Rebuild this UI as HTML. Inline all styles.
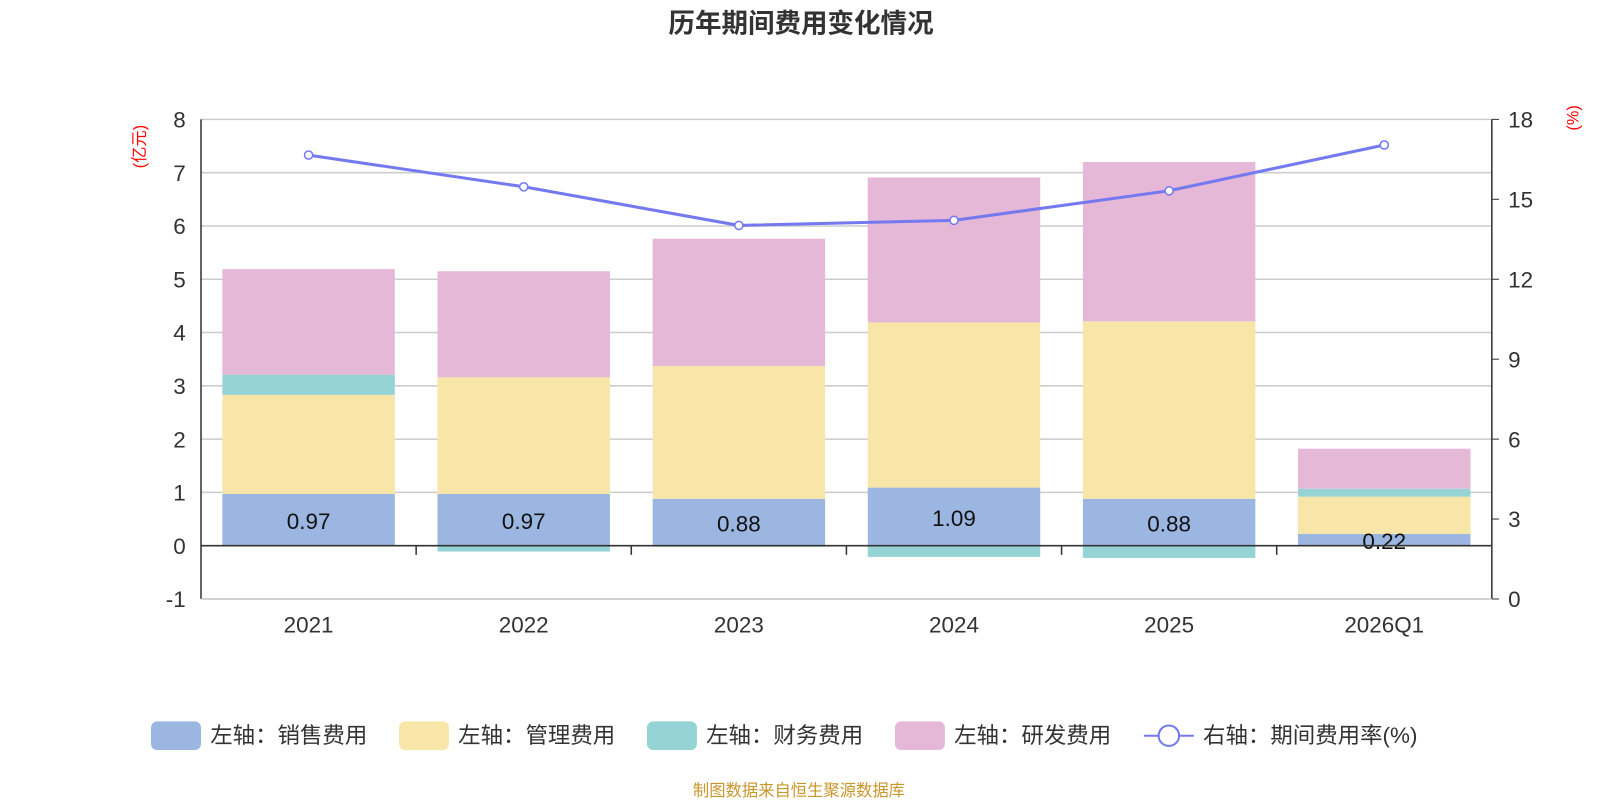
<!DOCTYPE html>
<html><head><meta charset="utf-8"><style>
body{margin:0;background:#fff;width:1600px;height:800px;overflow:hidden;font-family:"Liberation Sans","Noto Sans CJK SC",sans-serif;}
</style></head><body>
<svg width="1600" height="800" font-family="Liberation Sans, Noto Sans CJK SC, sans-serif"><g id="c" transform="scale(1.0204)"></g></svg>
<script>
const categories=["2021","2022","2023","2024","2025","2026Q1"];
const sales=[0.97,0.97,0.88,1.09,0.88,0.22];
const mgmt=[1.86,2.19,2.49,3.10,3.33,0.70];
const fin=[0.38,-0.11,-0.02,-0.21,-0.23,0.15];
const rd=[1.98,1.99,2.39,2.72,2.99,0.75];
const rate=[16.66,15.47,14.02,14.21,15.32,17.04];
const leftTicks=[-1,0,1,2,3,4,5,6,7,8];
const rightTicks=[0,3,6,9,12,15,18];
const svg=document.getElementById('c');const NS='http://www.w3.org/2000/svg';
function mk(t,a,txt){const e=document.createElementNS(NS,t);for(const k in a)e.setAttribute(k,a[k]);if(txt!==undefined)e.textContent=txt;svg.appendChild(e);return e;}
const x0=197,x1=1462,yTop=117,yBot=587;
const yL=v=>yTop+(8-v)*(yBot-yTop)/9;
const yR=v=>yBot-v*(yBot-yTop)/18;
const bw=(x1-x0)/categories.length;
const xc=i=>x0+bw*(i+0.5);
let t=mk('text',{x:785,y:32,'text-anchor':'middle','font-size':26,'font-weight':'bold',fill:'#333'},'历年期间费用变化情况');

leftTicks.forEach(v=>{
 if(v!==0){let g=mk('line',{x1:x0,x2:x1,y1:yL(v),y2:yL(v),stroke:'#ccc','stroke-width':1.5});}
 let l=mk('text',{x:182,y:yL(v)+8,'text-anchor':'end','font-size':22,fill:'#333'},String(v));
});
rightTicks.forEach(v=>{
 let l=mk('text',{x:1478,y:yR(v)+8,'font-size':22,fill:'#333'},String(v));
 let tk=mk('line',{x1:x1,x2:x1+7,y1:yR(v),y2:yR(v),stroke:'#333'});
});
const colors=['#9bb6e0','#f8e6a8','#95d3d4','#e6b8d8'];
const series=[sales,mgmt,fin,rd];const names=['sales','mgmt','finance','rd'];
categories.forEach((c,i)=>{
 let pos=0,neg=0;
 series.forEach((s,k)=>{const v=s[i];let a,b;
  if(v>=0){a=pos;b=pos+v;pos=b;}else{a=neg;b=neg+v;neg=b;}
  let r=mk('rect',{x:xc(i)-84.5,width:169,y:Math.min(yL(a),yL(b)),height:Math.abs(yL(a)-yL(b)),fill:colors[k]});
  
 });
 let l=mk('text',{x:xc(i),y:(yL(0)+yL(sales[i]))/2+9,'text-anchor':'middle','font-size':22,fill:'#111'},sales[i].toFixed(2));
 
 let xl=mk('text',{x:xc(i),y:620,'text-anchor':'middle','font-size':22,fill:'#333'},c);
 
 if(i>0){let tk=mk('line',{x1:x0+bw*i,x2:x0+bw*i,y1:yL(0),y2:yL(0)+9,stroke:'#333','stroke-width':1.5});}
});
let ax=mk('line',{x1:x0,x2:x1,y1:yL(0),y2:yL(0),stroke:'#333','stroke-width':1.5});
let la=mk('line',{x1:x0,x2:x0,y1:yTop,y2:yBot,stroke:'#333','stroke-width':1.5});
let ra=mk('line',{x1:x1,x2:x1,y1:yTop,y2:yBot,stroke:'#333','stroke-width':1.5});
let bl=mk('line',{x1:x0,x2:x1,y1:yBot,y2:yBot,stroke:'#ccc','stroke-width':1.5});
let pts=rate.map((v,i)=>xc(i)+','+yR(v)).join(' ');
let pl=mk('polyline',{points:pts,fill:'none',stroke:'#7479f0','stroke-width':3});
rate.forEach((v,i)=>{let p=mk('circle',{cx:xc(i),cy:yR(v),r:4,fill:'#fff',stroke:'#7479f0','stroke-width':1.5});});
let u1=mk('text',{x:0,y:0,'font-size':16,fill:'red',transform:'translate(142,165) rotate(-90)'},'(亿元)');
let u2=mk('text',{x:0,y:0,'font-size':16,fill:'red',transform:'translate(1547,128) rotate(-90)'},'(%)');
const legs=['左轴：销售费用','左轴：管理费用','左轴：财务费用','左轴：研发费用'];const lx=[148,391,634,877];
legs.forEach((s,k)=>{let r=mk('rect',{x:lx[k],y:707,width:49,height:28,rx:6,fill:colors[k]});
 let tx=mk('text',{x:lx[k]+58,y:728,'font-size':22,fill:'#333'},s);});
let ll=mk('line',{x1:1121,x2:1170,y1:721,y2:721,stroke:'#7479f0','stroke-width':2});
let lc=mk('circle',{cx:1145.5,cy:721,r:10,fill:'#fff',stroke:'#7479f0','stroke-width':2});
let lt=mk('text',{x:1179,y:728,'font-size':22,fill:'#333'},'右轴：期间费用率(%)');
let ft=mk('text',{x:783,y:780,'text-anchor':'middle','font-size':16,fill:'#c9962a'},'制图数据来自恒生聚源数据库');
</script></body></html>
